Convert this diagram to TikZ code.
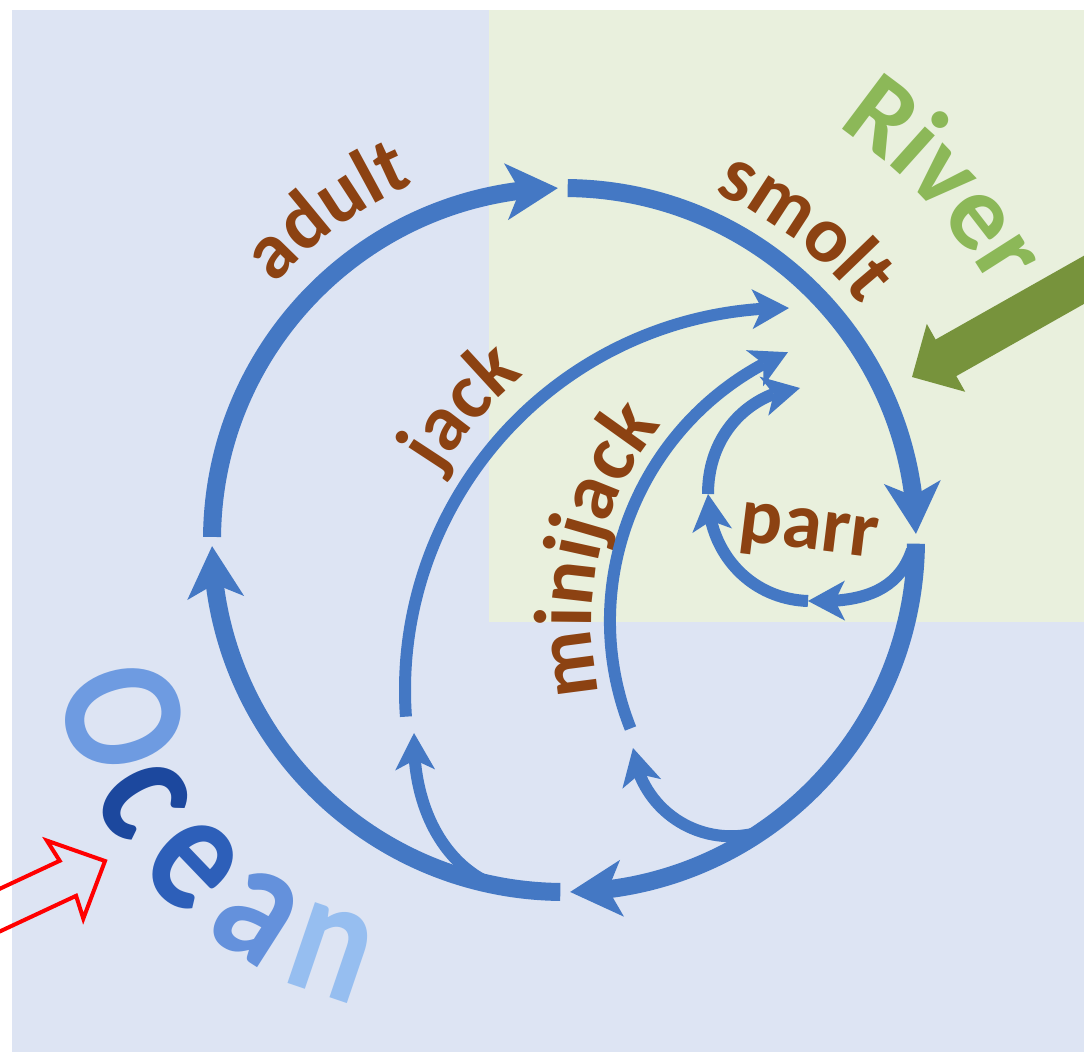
\documentclass[tikz,border=0pt]{standalone}
\usepackage{fontspec}
\setmainfont{Carlito}
\usepackage{graphicx}
\usetikzlibrary{arrows.meta,bending,calc}
\definecolor{bgblue}{RGB}{221,228,243}
\definecolor{bggreen}{RGB}{233,240,221}
\definecolor{lineblue}{RGB}{68,120,196}
\definecolor{arrowgreen}{RGB}{119,147,60}
\definecolor{lblbrown}{RGB}{140,66,18}
\definecolor{rivergreen}{RGB}{140,184,88}
\definecolor{oceanA}{RGB}{110,155,225}
\definecolor{oceanB}{RGB}{28,72,158}
\definecolor{oceanC}{RGB}{45,95,185}
\definecolor{oceanD}{RGB}{100,145,220}
\definecolor{oceanE}{RGB}{150,190,240}
% word along a clockwise arc: center, radius, mid angle, spacing size, half em, style, prefix, list
\newcommand\cwword[8]{%
  \foreach \ch/\ee [count=\kk] in {#8}{%
    \pgfmathsetmacro\myang{#3+(\ee-#5)*#4/#2*57.2958}%
    \pgfmathsetmacro\myrot{-\myang-90}%
    \node[#6,rotate=\myrot] (#7-\kk) at ($(#1)+(\myang:#2)$) {\ch};%
  }}
\begin{document}
\begin{tikzpicture}[x=1pt,y=-1pt,
  ringline/.style={draw=lineblue,line width=18pt,-{Stealth[length=52pt,width=57pt,inset=14pt,line width=0pt]}},
  subline/.style={draw=lineblue,line width=12pt,-{Stealth[length=37pt,width=40pt,inset=10pt,line width=0pt]}},
  lbl/.style={anchor=base,inner sep=0pt,text=lblbrown,font=\bfseries\fontsize{80}{80}\selectfont},
  lblm/.style={anchor=base,inner sep=0pt,text=lblbrown,font=\bfseries\fontsize{82}{82}\selectfont},
  rivertxt/.style={anchor=base,inner sep=0pt,text=rivergreen,font=\bfseries\fontsize{108}{108}\selectfont},
]
\clip (0,0) rectangle (1084,1052);
% backgrounds
\fill[white] (0,0) rectangle (1084,1052);
\fill[bgblue] (12,10) rectangle (1084,1052);
\fill[bggreen] (489,10) rectangle (1084,622);

% centres
\coordinate (C) at (564,540);
\coordinate (J) at (787,690);
\coordinate (M) at (902,621);
\coordinate (O0) at (443,624);

% labels
\cwword{C}{386}{234.3}{80}{1.0805}{lbl}{adult}{a/0.247,d/0.7625,u/1.2995,l/1.691,t/1.9875}
\cwword{C}{378}{307.6}{80}{1.172}{lbl}{smolt}{s/0.1995,m/0.8065,o/1.4825,l/1.874,t/2.1705}
\cwword{C}{496}{316.6}{106}{1.0705}{rivertxt}{river}{R/0.2815,i/0.686,v/1.046,e/1.5345,r/1.9635}
\cwword{J}{410}{221}{80}{0.821}{lbl}{jack}{j/0.125,a/0.497,c/0.953,k/1.402}
\cwword{M}{310}{192.8}{82}{1.742}{lblm}{minijack}{m/0.4075,i/0.938,n/1.3295,i/1.7215,j/1.967,a/2.339,c/2.795,k/3.244}
\node[lbl,rotate=-7] (parr) at (807,549) {parr};
\foreach \ch/\aa/\col [count=\kk] in {O/163.8/oceanA,c/149.7/oceanB,e/136.2/oceanC,a/122.6/oceanD,n/108.8/oceanE}{%
  \pgfmathsetmacro\myrot{90-\aa}%
  \node[anchor=base,inner sep=0pt,text=\col,font=\bfseries\fontsize{176}{176}\selectfont,rotate=\myrot] (ocean-\kk) at ($(O0)+(\aa:390)$) {\scalebox{0.84}[1]{\ch}};
}

% outer life-cycle ring
\draw[ringline] ($(C)+(180.5:352)$) arc[start angle=180.5,end angle=269,radius=352];
\draw[ringline] ($(C)+(270.6:352)$) arc[start angle=270.6,end angle=359,radius=352];
\draw[ringline] ($(C)+(0.6:352)$) arc[start angle=0.6,end angle=89,radius=352];
\draw[ringline] ($(C)+(90.6:352)$) arc[start angle=90.6,end angle=179,radius=352];

% jack path and branch
\draw[subline] ($(J)+(176:382)$) arc[start angle=176,end angle=270.3,radius=382];
\coordinate (jb) at ($(C)+(101.5:352)$);
\coordinate (jtip) at (414,733);
\draw[subline] (jb) .. controls (450,868) and (412,815) .. (jtip);

% minijack path and branch
\draw[subline] ($(M)+(158.4:292)$) arc[start angle=158.4,end angle=247,radius=292];
\coordinate (mb) at ($(C)+(56:352)$);
\coordinate (mtip) at (633,748);
\draw[subline] (mb) .. controls (700,850) and (640,810) .. (mtip);

% parr loop
\coordinate (p0) at (912,550);
\coordinate (p1) at (808,601);
\coordinate (p2) at (708,494);
\coordinate (p3) at (800,388);
\draw[subline] (p0) .. controls (898,592) and (860,603) .. (p1);
\draw[subline] (p1) .. controls (750,599) and (708,552) .. (p2);
\draw[subline] (p2) .. controls (708,432) and (752,392) .. (p3);

% green block arrow (river input)
\fill[arrowgreen] (912,377) -- (926.8,323.9) -- (935.6,339.5) -- (1090,252.3) -- (1090,300.5) -- (956.3,376.1) -- (965.2,391.8) -- cycle;

% red hollow block arrow
\draw[red,line width=4pt,line join=miter] (105,861) -- (46.9,840.6) -- (59.7,860.8) -- (-20,898) -- (-20,940.7) -- (76.1,895.8) -- (83.3,918.6) -- cycle;
\end{tikzpicture}
\end{document}
